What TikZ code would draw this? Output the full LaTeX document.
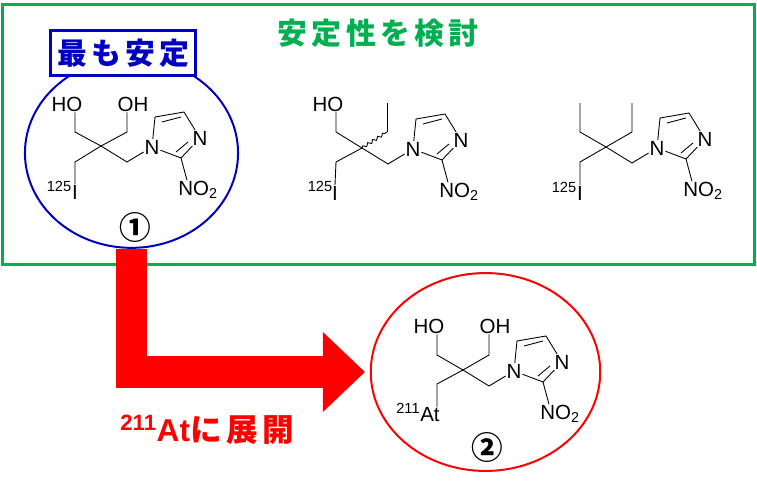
\documentclass[tikz,border=0pt]{standalone}
\usepackage{fontspec}
\setmainfont{Liberation Sans}
\newfontfamily\cjk[LetterSpace=14]{Noto Sans CJK JP}
\usetikzlibrary{arrows.meta,positioning,shapes.geometric,decorations.pathmorphing}
\definecolor{boxgreen}{RGB}{0,176,80}
\definecolor{boxblue}{RGB}{0,0,192}
\tikzset{
	atom/.style={inner sep=0.5pt,font=\fontsize{17.5}{17.5}\selectfont},
	iso/.style={inner sep=0pt,font=\fontsize{12.5}{12.5}\selectfont},
	num/.style={inner sep=0pt,font=\cjk\bfseries\fontsize{27}{27}\selectfont},
	bigarrow/.style={red,line width=27.3pt,-{Triangle[length=36pt,width=66pt]},shorten >=4pt},
}
% ring, nitro group and the bridge, drawn around the centre carbon
\newcommand{\molcore}[1]{
	\coordinate (#1c) at (0,0);
	\coordinate (#1a) at (26,16);
	\coordinate (#1b) at (54,-29);
	\coordinate (#1d) at (83,-34);
	\coordinate (#1e) at (80,12);
	\node[atom] (#1n) at (51,1) {N};
	\node[atom] (#1m) at (99,-8) {N};
	\node[atom] (#1no) at (97,44) {NO\textsubscript{2}};
	\draw (#1c) -- (#1a) -- (#1n) -- (#1b) -- (#1d) -- (#1m) -- (#1e) -- (#1n);
	\draw (61,-24) -- (80,-29);
	\draw (75,6) -- (87,-4);
	\draw (#1e) -- (#1no.north -| 86,0);
}
\begin{document}
\begin{tikzpicture}[x=0.854pt,y=-0.854pt,line width=0.75pt]
	\useasboundingbox (0,0) rectangle (757,490);
	\node[draw=boxgreen,line width=2.6pt,minimum width=642pt,minimum height=222pt,inner sep=0pt] (frame) at (378.5,134.5) {};
	\node[inner sep=0pt,text=boxgreen,font=\cjk\bfseries\fontsize{25.5}{25.5}\selectfont] (title) at (378,33) {安定性を検討};
	\node[draw=boxblue,line width=1.7pt,ellipse,minimum width=182pt,minimum height=162pt,inner sep=0pt] (one) at (131.5,153) {};
	\node[draw=red,line width=1.7pt,ellipse,minimum width=196pt,minimum height=169pt,inner sep=0pt] (two) at (485.5,372) {};
	\draw[bigarrow] (one.south) |- (two.west);
	\node[draw=boxblue,fill=white,line width=2.6pt,minimum width=124pt,minimum height=39pt,inner sep=0pt,text=boxblue,font=\cjk\bfseries\fontsize{25.5}{25.5}\selectfont] (best) at (123,53) {最も安定};
	\node[num] (numone) at (135,227) {①};
	\node[num] (numtwo) at (487,447) {②};
	\node[inner sep=0pt,anchor=west,text=red,font=\bfseries\fontsize{27}{27}\selectfont] (label) at (120,430) {\textsuperscript{211}At{\cjk に展開}};
	% molecule 1
	\begin{scope}[shift={(101,146)}]
		\molcore{p}
		\node[atom] (pho) at (-34,-42) {HO};
		\node[atom] (poh) at (32,-42) {OH};
		\node[atom] (pi) at (-26,46) {I};
		\node[iso] (piso) at (-42,40) {125};
		\coordinate (pl) at (-26,-14);
		\coordinate (pr) at (26,-14);
		\coordinate (pt) at (-26,16);
		\draw (pho.south -| pl) -- (pl) -- (pc) -- (pr) -- (poh.south -| pr);
		\draw (pc) -- (pt) -- (pi.north);
	\end{scope}
	% molecule 2, wavy ethyl
	\begin{scope}[shift={(362,148)}]
		\molcore{q}
		\node[atom] (qho) at (-34,-44) {HO};
		\node[atom] (qi) at (-27,45) {I};
		\node[iso] (qiso) at (-42,38) {125};
		\coordinate (ql) at (-26,-16);
		\coordinate (qr) at (25,-16);
		\coordinate (qe) at (25,-45);
		\coordinate (qt) at (-26,14);
		\draw (qho.south -| ql) -- (ql) -- (qc);
		\draw[decorate,decoration={snake,amplitude=1.2pt,segment length=5pt}] (qc) -- (qr);
		\draw (qr) -- (qe);
		\draw (qc) -- (qt) -- (qi.north);
	\end{scope}
	% molecule 3, two ethyls
	\begin{scope}[shift={(606,147)}]
		\molcore{s}
		\node[atom] (si) at (-26,46) {I};
		\node[iso] (siso) at (-42,40) {125};
		\coordinate (sl) at (-26,-15);
		\coordinate (sr) at (26,-15);
		\coordinate (se) at (-26,-44);
		\coordinate (sf) at (26,-44);
		\coordinate (st) at (-26,15);
		\draw (se) -- (sl) -- (sc) -- (sr) -- (sf);
		\draw (sc) -- (st) -- (si.north);
	\end{scope}
	% molecule 4, astatine
	\begin{scope}[shift={(463,370)}]
		\molcore{r}
		\node[atom] (rho) at (-34,-44) {HO};
		\node[atom] (roh) at (32,-44) {OH};
		\node[atom] (rat) at (-33,45) {At};
		\node[iso] (riso) at (-55,38) {211};
		\coordinate (rl) at (-26,-15);
		\coordinate (rr) at (26,-15);
		\coordinate (rt) at (-26,14);
		\draw (rho.south -| rl) -- (rl) -- (rc) -- (rr) -- (roh.south -| rr);
		\draw (rc) -- (rt) -- (rat.north -| rt);
	\end{scope}
\end{tikzpicture}
\end{document}
